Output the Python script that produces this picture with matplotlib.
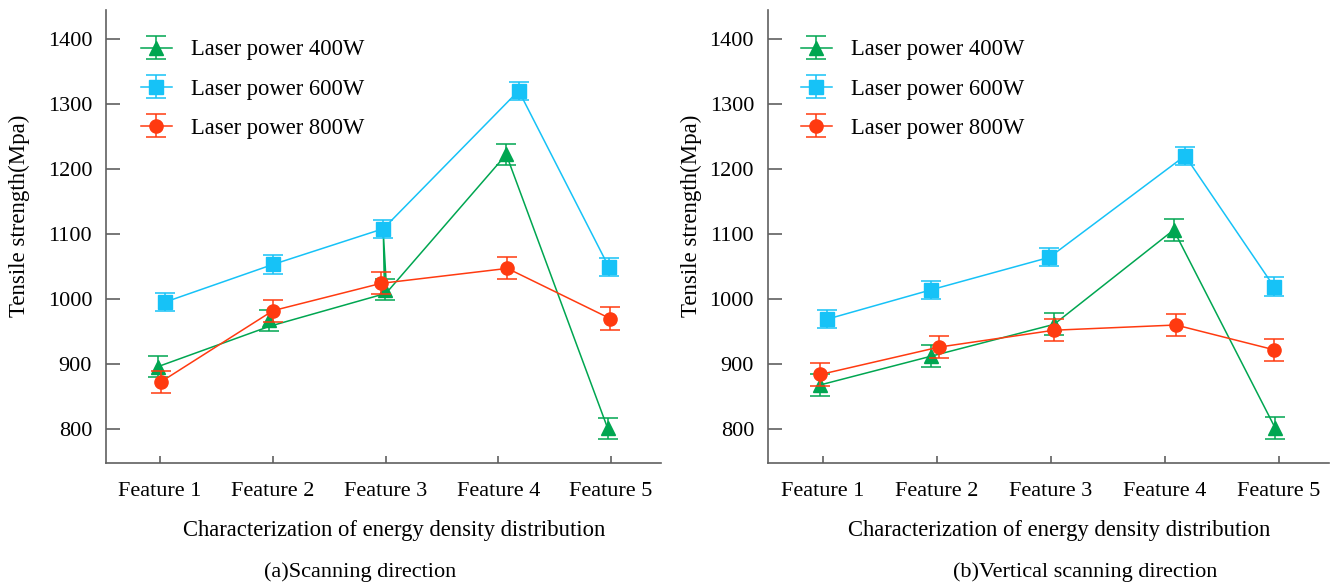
import matplotlib.pyplot as plt

plt.rcParams['font.family'] = ['Liberation Serif', 'DejaVu Serif']

features = ['Feature 1', 'Feature 2', 'Feature 3', 'Feature 4', 'Feature 5']
labels = ['Laser power 400W', 'Laser power 600W', 'Laser power 800W']

# (a) scanning direction: x position, tensile strength, error
x400_a = [0.98, 1.97, 2.99, 4.07, 4.97]
y400_a = [896, 967, 1014, 1222, 801]
e400_a = [16, 16, 16, 16, 16]
x600_a = [1.04, 2.00, 2.98, 4.18, 4.98]
y600_a = [995, 1053, 1108, 1320, 1049]
e600_a = [14, 14, 14, 14, 14]
x800_a = [1.01, 2.00, 2.96, 4.08, 4.99]
y800_a = [873, 982, 1024, 1047, 970]
e800_a = [17, 17, 17, 17, 17]

# path of the 400W connecting line in (a)
trace400_a_x = [0.98, 1.97, 2.99, 2.98, 3.01, 4.07, 4.70, 4.97]
trace400_a_y = [896, 958, 1008, 1100, 1010, 1222, 927, 801]

# (b) vertical scanning direction
x400_b = [0.98, 1.95, 3.03, 4.08, 4.97]
y400_b = [868, 912, 961, 1106, 802]
e400_b = [17, 17, 17, 17, 17]
x600_b = [1.04, 1.95, 2.99, 4.18, 4.96]
y600_b = [969, 1014, 1064, 1220, 1019]
e600_b = [14, 14, 14, 14, 14]
x800_b = [0.98, 2.02, 3.03, 4.10, 4.96]
y800_b = [884, 926, 952, 960, 922]
e800_b = [17, 17, 17, 17, 17]

green = '#00a651'
blue = '#16c2f7'
red = '#ff3a10'
axis_col = '#606060'

fig = plt.figure(figsize=(13.3, 5.84), dpi=100)
ax1 = fig.add_axes([0.0797, 0.2072, 0.4171, 0.7757])
ax2 = fig.add_axes([0.5774, 0.2072, 0.4216, 0.7757])


def draw(ax, series, trace=None):
    markers = ['^', 's', 'o']
    sizes = [10, 9.5, 9.5]
    cols = [green, blue, red]
    handles = []
    for i, (xs, ys, es) in enumerate(series):
        ls = '-' if (i > 0 or trace is None) else 'none'
        eb = ax.errorbar(xs, ys, yerr=es, color=cols[i], marker=markers[i], ms=sizes[i],
                         lw=1.1, ls=ls, elinewidth=1.1, capsize=7, capthick=1.1,
                         ecolor=cols[i], zorder=3 + i)
        handles.append(eb)
    if trace is not None:
        ln, = ax.plot(trace[0], trace[1], color=green, lw=1.1, zorder=3)
        handles[0] = (ln, handles[0])
    ax.set_xlim(0.52, 5.44)
    ax.set_ylim(748, 1444)
    ax.set_xticks(range(1, 6))
    ax.set_xticklabels(features)
    ax.set_yticks([800, 900, 1000, 1100, 1200, 1300, 1400])
    for s in ['top', 'right']:
        ax.spines[s].set_visible(False)
    for s in ['left', 'bottom']:
        ax.spines[s].set_color(axis_col)
        ax.spines[s].set_linewidth(1.2)
    ax.tick_params(axis='y', direction='in', length=10, width=1.2, color=axis_col,
                   labelsize=16, pad=10)
    ax.tick_params(axis='x', direction='in', length=5, width=1.2, color=axis_col,
                   labelsize=16, pad=14)
    ax.set_xlabel('Characterization of energy density distribution', fontsize=16.3)
    ax.xaxis.set_label_coords(0.52, -0.125)
    ax.set_ylabel('Tensile strength(Mpa)', fontsize=16.5)
    return handles


h1 = draw(ax1, [(x400_a, y400_a, e400_a), (x600_a, y600_a, e600_a), (x800_a, y800_a, e800_a)],
          trace=(trace400_a_x, trace400_a_y))
h2 = draw(ax2, [(x400_b, y400_b, e400_b), (x600_b, y600_b, e600_b), (x800_b, y800_b, e800_b)])
ax1.yaxis.set_label_coords(-0.137, 0.545)
ax2.yaxis.set_label_coords(-0.117, 0.545)

for ax, hs, x0 in [(ax1, h1, 0.063), (ax2, h2, 0.059)]:
    ax.legend(hs, labels, loc='upper left', bbox_to_anchor=(x0, 0.935), frameon=False,
              fontsize=16.3, borderpad=0, borderaxespad=0, handlelength=1.35,
              handletextpad=0.85, labelspacing=0.8)

fig.text(0.271, 0.0205, '(a)Scanning direction', ha='center', va='center', fontsize=16)
fig.text(0.816, 0.0205, '(b)Vertical scanning direction', ha='center', va='center',
         fontsize=16)

fig.savefig('out.png', dpi=100)
